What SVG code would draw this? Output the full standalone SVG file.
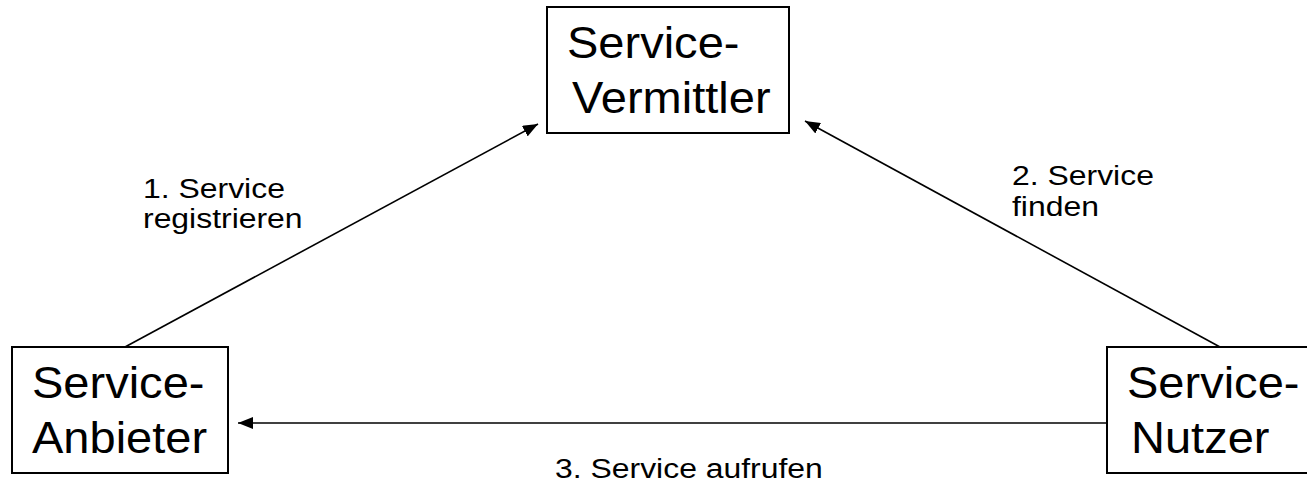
<svg xmlns="http://www.w3.org/2000/svg" width="1307" height="488" viewBox="0 0 1307 488">
  <style>
    .box { fill: #ffffff; stroke: #000000; stroke-width: 2; }
    .big { font-family: "Liberation Sans", Arial, sans-serif; font-size: 45px; fill: #000000; }
    .lbl { font-family: "Liberation Sans", Arial, sans-serif; font-size: 28px; fill: #000000; }
    .edge { stroke: #000000; stroke-width: 1.6; fill: none; marker-end: url(#head); }
  </style>
  <defs>
    <marker id="head" viewBox="0 0 15 12" refX="15" refY="6" markerWidth="15" markerHeight="12" markerUnits="userSpaceOnUse" orient="auto">
      <path d="M0,0 L15,6 L0,12 z" fill="#000000"/>
    </marker>
  </defs>

  <rect width="1307" height="488" fill="#ffffff"/>

  <!-- connectors -->
  <g id="connectors">
    <line class="edge" x1="125" y1="347" x2="538" y2="124"/>
    <line class="edge" x1="1220" y1="347" x2="805" y2="121"/>
    <line class="edge" x1="1107" y1="423" x2="238" y2="423"/>
    <text class="lbl" transform="translate(143,198) scale(1.14,1)">1. Service</text>
    <text class="lbl" transform="translate(143,228) scale(1.14,1)">registrieren</text>
    <text class="lbl" transform="translate(1012,185) scale(1.14,1)">2. Service</text>
    <text class="lbl" transform="translate(1012,216) scale(1.14,1)">finden</text>
    <text class="lbl" transform="translate(555,478) scale(1.14,1)">3. Service aufrufen</text>
  </g>

  <!-- broker -->
  <g id="vermittler">
    <rect class="box" x="547" y="7" width="242" height="126"/>
    <text class="big" transform="translate(567,58) scale(1.045,1)">Service-</text>
    <text class="big" transform="translate(572,113) scale(1.045,1)">Vermittler</text>
  </g>

  <!-- provider -->
  <g id="anbieter">
    <rect class="box" x="12" y="347" width="216" height="126"/>
    <text class="big" transform="translate(32,398) scale(1.045,1)">Service-</text>
    <text class="big" transform="translate(32,453) scale(1.045,1)">Anbieter</text>
  </g>

  <!-- consumer -->
  <g id="nutzer">
    <rect class="box" x="1107" y="347" width="216" height="126"/>
    <text class="big" transform="translate(1127,398) scale(1.045,1)">Service-</text>
    <text class="big" transform="translate(1131,453) scale(1.045,1)">Nutzer</text>
  </g>
</svg>
